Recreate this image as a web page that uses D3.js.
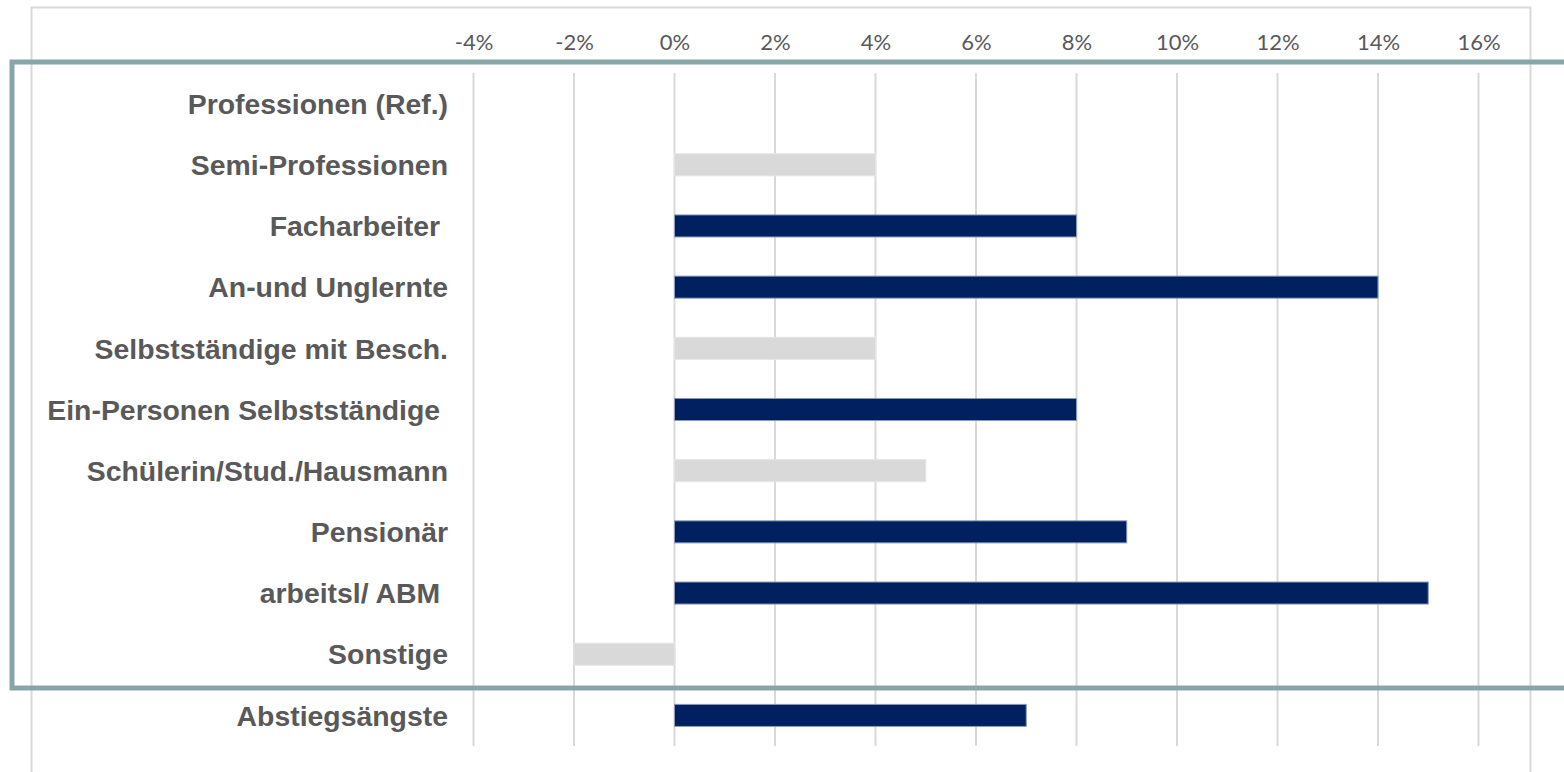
<!DOCTYPE html>
<html>
<head>
<meta charset="utf-8">
<script src="https://cdn.jsdelivr.net/npm/d3@7"></script>
<style>
    body { margin: 0; background: #fff; }
    svg { display: block; }
    .cat { white-space: pre; }
</style>
</head>
<body>
<div id="chart"></div>
<script>
// chart data
const categories = [
    "Professionen (Ref.)",
    "Semi-Professionen",
    "Facharbeiter ",
    "An-und Unglernte",
    "Selbstständige mit Besch.",
    "Ein-Personen Selbstständige ",
    "Schülerin/Stud./Hausmann",
    "Pensionär",
    "arbeitsl/ ABM ",
    "Sonstige",
    "Abstiegsängste"
];
const values = [0, 4, 8, 14, 4, 8, 5, 9, 15, -2, 7]; // percent
const significant = [false, false, true, true, false, true, false, true, true, false, true];
const tickValues = [-4, -2, 0, 2, 4, 6, 8, 10, 12, 14, 16];

const width = 1564, height = 772;

const svg = d3.select("#chart").append("svg")
    .attr("width", width)
    .attr("height", height);

// chart area border
svg.append("rect")
    .attr("x", 31.5).attr("y", 7.5)
    .attr("width", 1499).attr("height", 800)
    .attr("fill", "none")
    .attr("stroke", "#d9d9d9")
    .attr("stroke-width", 2);

const x = d3.scaleLinear()
    .domain([-4, 16])
    .range([473.5, 1478.5]);

const y = d3.scaleBand()
    .domain(categories)
    .range([73, 746])
    .paddingInner(0.64)
    .paddingOuter(0.32);

// gridlines
svg.append("g")
    .selectAll("line")
    .data(tickValues)
    .join("line")
    .attr("x1", d => x(d)).attr("x2", d => x(d))
    .attr("y1", 73).attr("y2", 746)
    .attr("stroke", "#d9d9d9")
    .attr("stroke-width", 2);

// top axis labels
const xAxis = d3.axisTop(x)
    .tickValues(tickValues)
    .tickFormat(d => d + "%")
    .tickSize(0)
    .tickPadding(0);

const ax = svg.append("g")
    .attr("transform", "translate(0,50)")
    .call(xAxis);
ax.select(".domain").remove();
ax.selectAll("text")
    .attr("dy", 0)
    .attr("fill", "#595959")
    .style("font-family", "Lato, 'Open Sans', sans-serif")
    .style("font-size", "22px");

// bars
svg.append("g")
    .selectAll("rect")
    .data(values)
    .join("rect")
    .attr("x", d => x(Math.min(0, d)))
    .attr("y", (d, i) => y(categories[i]))
    .attr("width", d => Math.abs(x(d) - x(0)))
    .attr("height", y.bandwidth())
    .attr("fill", (d, i) => significant[i] ? "#002060" : "#d9d9d9")
    .attr("stroke", (d, i) => significant[i] ? "#8c99b8" : "#e4e4e4")
    .attr("stroke-width", 1);

// category labels
svg.append("g")
    .selectAll("text")
    .data(categories)
    .join("text")
    .attr("class", "cat")
    .attr("x", 448)
    .attr("y", d => y(d) + y.bandwidth() / 2)
    .attr("dy", "0.36em")
    .attr("text-anchor", "end")
    .attr("fill", "#595959")
    .style("font-family", "'Liberation Sans', Arial, sans-serif")
    .style("font-weight", "bold")
    .style("font-size", "28.4px")
    .text(d => d);

// highlight frame around the occupation groups
svg.append("rect")
    .attr("x", 12).attr("y", 62)
    .attr("width", 1600).attr("height", 626)
    .attr("fill", "none")
    .attr("stroke", "#8aa5a8")
    .attr("stroke-width", 5);
</script>
</body>
</html>
